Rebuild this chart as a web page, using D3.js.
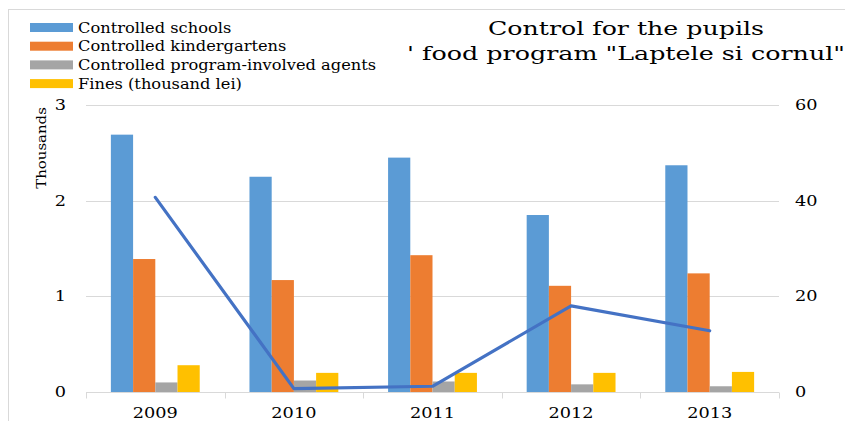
<!DOCTYPE html>
<html>
<head>
<meta charset="utf-8">
<script src="https://cdn.jsdelivr.net/npm/d3@7"></script>
<style>
  html, body { margin: 0; padding: 0; background: #fff; }
  svg { display: block; }
  text { font-family: "DejaVu Serif", "Liberation Serif", serif; fill: #000; }
</style>
</head>
<body>
<svg id="chart" width="845" height="421"></svg>
<script>
const years = ["2009", "2010", "2011", "2012", "2013"];
const schools = [2.69, 2.25, 2.45, 1.85, 2.37];
const kindergartens = [1.39, 1.17, 1.43, 1.11, 1.24];
const agents = [0.10, 0.12, 0.11, 0.08, 0.06];
const fines = [0.28, 0.20, 0.20, 0.20, 0.21];
const lineValues = [40.7, 0.7, 1.2, 18.0, 12.8];
const leftTicks = [0, 1, 2, 3];
const rightTicks = [0, 20, 40, 60];
const seriesNames = ["Controlled schools", "Controlled kindergartens", "Controlled program-involved agents", "Fines (thousand lei)"];
const seriesColors = ["#5B9BD5", "#ED7D31", "#A5A5A5", "#FFC000"];
const titleLines = ["Control for the pupils", "' food program  \"Laptele si cornul\""];
const yAxisTitle = "Thousands";

const seriesValues = [schools, kindergartens, agents, fines];
const svg = d3.select("#chart");

function stretch(sel, factor) {
  sel.each(function () {
    const w = this.getComputedTextLength();
    d3.select(this).attr("textLength", w * factor).attr("lengthAdjust", "spacingAndGlyphs");
  });
}

// chart border
svg.append("rect").attr("x", 8.5).attr("y", 9.5).attr("width", 860).attr("height", 430)
  .attr("fill", "none").attr("stroke", "#d9d9d9");

const plot = { left: 86, right: 779, top: 105, bottom: 392 };

const x0 = d3.scaleBand().domain(years).range([plot.left, plot.right]).padding(0);
const x1 = d3.scaleBand().domain(d3.range(4)).range([0, x0.bandwidth()]).paddingInner(0).paddingOuter(1.12);
const yL = d3.scaleLinear().domain([0, 3]).range([plot.bottom, plot.top]);
const yR = d3.scaleLinear().domain([0, 60]).range([plot.bottom, plot.top]);

// gridlines
svg.append("g").selectAll("line").data(leftTicks.filter(d => d > 0)).join("line")
  .attr("x1", plot.left).attr("x2", plot.right)
  .attr("y1", d => Math.round(yL(d)) + 0.5).attr("y2", d => Math.round(yL(d)) + 0.5)
  .attr("stroke", "#d9d9d9").attr("stroke-width", 1);

// bars
const groups = svg.append("g").selectAll("g").data(years).join("g")
  .attr("transform", d => `translate(${x0(d)},0)`);
groups.selectAll("rect").data((d, i) => seriesValues.map((s, k) => ({ k, v: s[i] }))).join("rect")
  .attr("x", d => x1(d.k)).attr("width", x1.bandwidth())
  .attr("y", d => yL(d.v)).attr("height", d => yL(0) - yL(d.v))
  .attr("fill", d => seriesColors[d.k]);

// x axis
const xAxis = svg.append("g").attr("transform", `translate(0,${plot.bottom + 0.5})`);
xAxis.append("line").attr("x1", plot.left).attr("x2", plot.right).attr("stroke", "#d9d9d9");
const boundaries = years.map(d => x0(d)).concat([plot.right]);
xAxis.selectAll("line.tick").data(boundaries).join("line").attr("class", "tick")
  .attr("x1", d => Math.round(d) + 0.5).attr("x2", d => Math.round(d) + 0.5)
  .attr("y1", 0).attr("y2", 6).attr("stroke", "#d9d9d9");
svg.append("g").selectAll("text").data(years).join("text")
  .attr("x", d => x0(d) + x0.bandwidth() / 2).attr("y", 418)
  .attr("text-anchor", "middle").attr("font-size", 15)
  .text(d => d).call(stretch, 1.18);

// left axis labels
svg.append("g").selectAll("text").data(leftTicks).join("text")
  .attr("x", 66).attr("y", d => yL(d) + 5).attr("text-anchor", "end")
  .attr("font-size", 15).text(d => d3.format("d")(d)).call(stretch, 1.18);

// right axis labels
svg.append("g").selectAll("text").data(rightTicks).join("text")
  .attr("x", 795).attr("y", d => yR(d) + 5).attr("text-anchor", "start")
  .attr("font-size", 15).text(d => d3.format("d")(d)).call(stretch, 1.18);

// y axis title
svg.append("text").attr("transform", `translate(46,148) rotate(-90)`)
  .attr("text-anchor", "middle").attr("font-size", 13).text(yAxisTitle).call(stretch, 1.15);

// line series
const line = d3.line().x((d, i) => x0(years[i]) + x0.bandwidth() / 2).y(d => yR(d));
svg.append("path").datum(lineValues).attr("d", line)
  .attr("fill", "none").attr("stroke", "#4472C4").attr("stroke-width", 3.2)
  .attr("stroke-linejoin", "round").attr("stroke-linecap", "round");

// legend
const legend = svg.append("g").selectAll("g").data(seriesNames).join("g")
  .attr("transform", (d, i) => `translate(30,${23 + i * 18.7})`);
legend.append("rect").attr("width", 43).attr("height", 9).attr("fill", (d, i) => seriesColors[i]);
legend.append("text").attr("x", 48).attr("y", 9.5).attr("font-size", 14).text(d => d).call(stretch, 1.16);

// title
svg.append("g").selectAll("text").data(titleLines).join("text")
  .attr("x", 626).attr("y", (d, i) => 35 + i * 25)
  .attr("text-anchor", "middle").attr("font-size", 19)
  .attr("textLength", (d, i) => i === 0 ? 276 : 438).attr("lengthAdjust", "spacingAndGlyphs")
  .text(d => d);
</script>
</body>
</html>
